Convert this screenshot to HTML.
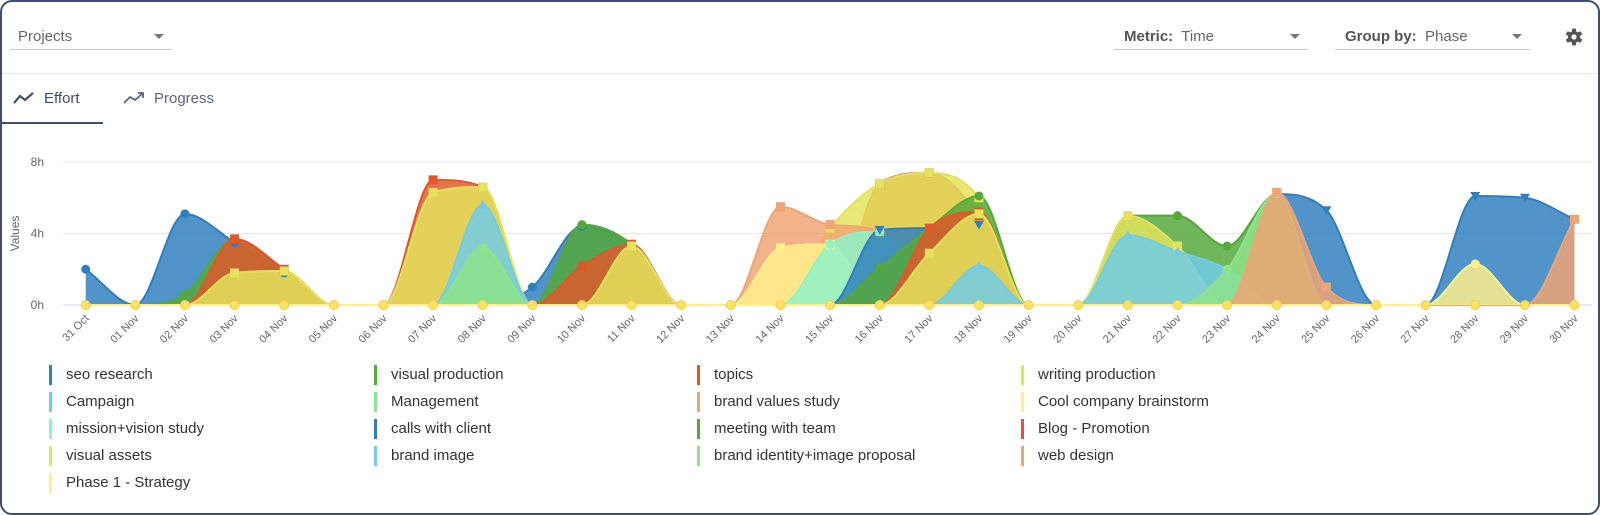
<!DOCTYPE html>
<html><head><meta charset="utf-8">
<style>
*{box-sizing:border-box;margin:0;padding:0}
body{width:1600px;height:515px;background:#fff;font-family:"Liberation Sans",sans-serif;overflow:hidden;position:relative}
.card{position:absolute;left:0;top:0;width:1600px;height:515px;border:2px solid #3f4d70;border-radius:12px;background:#fff}
.dd{position:absolute;border-bottom:1px solid #c8c8c8;height:24px;font-size:15px;color:#666}
.dd .car{position:absolute;right:8px;top:8px;width:0;height:0;border-left:5px solid transparent;border-right:5px solid transparent;border-top:5px solid #777}
.dd b{color:#555}
.sep{position:absolute;left:2px;right:2px;top:73px;height:1px;background:#e6e6e6}
.tab{position:absolute;top:90px;font-size:15px;color:#5c6478}
.lg{position:absolute;font-size:15px;color:#333;height:20px;line-height:20px}
.lg i{position:absolute;left:-17px;top:0;width:3px;height:20px}
</style></head><body>
<div class="card"></div>
<div class="dd" style="left:10px;top:26px;width:162px"><span style="position:absolute;left:8px;top:2px">Projects</span><span class="car"></span></div>
<div class="dd" style="left:1114px;top:26px;width:194px"><span style="position:absolute;left:10px;top:2px"><b>Metric:</b>&nbsp; Time</span><span class="car"></span></div>
<div class="dd" style="left:1335px;top:26px;width:195px"><span style="position:absolute;left:10px;top:2px"><b>Group by:</b>&nbsp; Phase</span><span class="car"></span></div>
<svg style="position:absolute;left:1565px;top:28px" width="18" height="18" viewBox="0 0 18 18"><g fill="#555"><circle cx="9" cy="9" r="6"/><rect x="7" y="0.5" width="4" height="17" rx="1"/><rect x="7" y="0.5" width="4" height="17" rx="1" transform="rotate(60 9 9)"/><rect x="7" y="0.5" width="4" height="17" rx="1" transform="rotate(120 9 9)"/></g><circle cx="9" cy="9" r="2.6" fill="#fff"/></svg>
<div class="sep"></div>
<div class="tab" style="left:12px"><svg width="24" height="14" style="vertical-align:-2px;margin-right:8px"><polyline points="2,12 8,5 13,9 21,2" fill="none" stroke="#3f4d70" stroke-width="2.2"/></svg><span style="color:#3f4d70">Effort</span></div>
<div style="position:absolute;left:2px;top:122px;width:101px;height:2px;background:#3f4d70"></div>
<div class="tab" style="left:122px"><svg width="24" height="14" style="vertical-align:-2px;margin-right:8px"><polyline points="2,12 8,6 13,9 21,2" fill="none" stroke="#5c6478" stroke-width="1.8"/><polyline points="16,2 21,2 21,7" fill="none" stroke="#5c6478" stroke-width="1.8"/></svg>Progress</div>
<svg id="chart" width="1600" height="515" style="position:absolute;left:0;top:0"></svg>
<div id="legend"></div>
<script>
const dates=["31 Oct","01 Nov","02 Nov","03 Nov","04 Nov","05 Nov","06 Nov","07 Nov","08 Nov","09 Nov","10 Nov","11 Nov","12 Nov","13 Nov","14 Nov","15 Nov","16 Nov","17 Nov","18 Nov","19 Nov","20 Nov","21 Nov","22 Nov","23 Nov","24 Nov","25 Nov","26 Nov","27 Nov","28 Nov","29 Nov","30 Nov"];
const yTicks=[0,4,8];
const seriesNames=["seo research","visual production","topics","writing production","Campaign","Management","brand values study","Cool company brainstorm","mission+vision study","calls with client","meeting with team","Blog - Promotion","visual assets","brand image","brand identity+image proposal","web design","Phase 1 - Strategy"];
const seoResearch=[2,0,5.1,3.5,1.8,0,0,0,0,1.0,4.4,3.3,0,0,0,0,0,0,0,0,0,0,0,0,0,0,0,0,0,0,0];
const visualProduction=[0,0,0.6,3.7,1.9,0,0,0,0,0,4.5,3.4,0,0,0,0,0,0,0,0,0,0,0,0,0,0,0,0,0,0,0];
const topics=[0,0,0,3.7,2.0,0,0,7.0,6.6,0,2.2,3.4,0,0,0,0,6.8,7.4,5.0,0,0,0,0,0,0,0,0,0,0,0,0];
const writingProduction=[0,0,0,1.8,1.9,0,0,6.3,6.6,0,0,3.3,0,0,0,4.3,6.8,7.4,6.0,0,0,0,0,0,0,0,0,0,0,0,0];
const campaign=[0,0,0,0,0,0,0,0,5.6,0,0,0,0,0,0,0,0,0,0,0,0,0,0,0,0,0,0,0,0,0,0];
const management=[0,0,0,0,0,0,0,0,3.2,0,0,0,0,0,0,0,0,0,0,0,0,0,0,0,0,0,0,0,0,0,0];
const brandValuesStudy=[0,0,0,0,0,0,0,0,0,0,0,0,0,0,5.5,4.5,4.1,0,0,0,0,0,0,0,0,0,0,0,0,0,0];
const coolCompany=[0,0,0,0,0,0,0,0,0,0,0,0,0,0,3.2,3.4,0,0,0,0,0,0,0,0,0,0,0,0,0,0,0];
const missionVision=[0,0,0,0,0,0,0,0,0,0,0,0,0,0,0,3.4,4.1,0,0,0,0,0,0,0,0,0,0,0,0,0,0];
const callsWithClient=[0,0,0,0,0,0,0,0,0,0,0,0,0,0,0,0,4.2,4.3,4.5,0,0,0,0,0,6.2,5.3,0,0,6.1,6.0,4.8];
const meetingWithTeam=[0,0,0,0,0,0,0,0,0,0,0,0,0,0,0,0,2.1,4.3,6.1,0,0,5.0,5.0,3.3,6.2,0,0,0,0,0,0];
const blogPromotion=[0,0,0,0,0,0,0,0,0,0,0,0,0,0,0,0,0,4.3,5.2,0,0,0,0,0,0,0,0,0,0,0,0];
const visualAssets=[0,0,0,0,0,0,0,0,0,0,0,0,0,0,0,0,0,2.9,5.1,0,0,5.0,3.3,0,0,0,0,0,0,0,0];
const brandImage=[0,0,0,0,0,0,0,0,0,0,0,0,0,0,0,0,0,0,2.2,0,0,3.9,3.0,2.0,0,0,0,0,0,0,0];
const brandIdentity=[0,0,0,0,0,0,0,0,0,0,0,0,0,0,0,0,0,0,0,0,0,0,0,2.0,6.2,0,0,0,0,0,0];
const webDesign=[0,0,0,0,0,0,0,0,0,0,0,0,0,0,0,0,0,0,0,0,0,0,0,0,6.3,1.0,0,0,0,0,4.8];
const phase1=[0,0,0,0,0,0,0,0,0,0,0,0,0,0,0,0,0,0,0,0,0,0,0,0,0,0,0,0,2.3,0,0];
const seriesValues=[seoResearch,visualProduction,topics,writingProduction,campaign,management,brandValuesStudy,coolCompany,missionVision,callsWithClient,meetingWithTeam,blogPromotion,visualAssets,brandImage,brandIdentity,webDesign,phase1];
const colors=["#2f7fbf","#55a83a","#e0582a","#e3e35c","#70cde8","#8ee48a","#f0a574","#fff18a","#8ef3c8","#2f7fbf","#55a83a","#e0582a","#e3e35c","#70cde8","#8ee48a","#f0a574","#fff18a"];
const shapes=["circle","circle","square","square","triangle","circle","square","square","circle","tdown","circle","square","square","triangle","circle","square","circle"];

const NS="http://www.w3.org/2000/svg";
const svg=document.getElementById('chart');
const X0=85.7,X1=1574.5,Y0=305,Y8=162,GL=63,GR=1592;
const xs=i=>X0+(X1-X0)*i/(dates.length-1);
const ys=v=>Y0+(Y8-Y0)*v/8;
function mk(t,a){const e=document.createElementNS(NS,t);for(const k in a)e.setAttribute(k,a[k]);svg.appendChild(e);return e;}

yTicks.forEach(t=>{
  const g=mk('line',{x1:GL,x2:GR,y1:ys(t),y2:ys(t),stroke:t===0?'#ccd6eb':'#e6e6e6','stroke-width':1});
  
  
  const l=mk('text',{x:44,y:ys(t)+4,'text-anchor':'end','font-size':12,fill:'#666','font-family':'Liberation Sans, sans-serif'});
  l.textContent=t+'h';
  
  
});
const yt=mk('text',{x:0,y:0,transform:'translate(19,'+((Y0+Y8)/2)+') rotate(-90)','text-anchor':'middle','font-size':12,fill:'#666','font-family':'Liberation Sans, sans-serif'});
yt.textContent='Values';



dates.forEach((d,i)=>{
  const t=mk('text',{x:0,y:0,transform:'translate('+(xs(i)+4)+','+(Y0+14)+') rotate(-45)','text-anchor':'end','font-size':11,fill:'#666','font-family':'Liberation Sans, sans-serif'});
  t.textContent=d;
  
  
});

function mono(vals){
  const n=vals.length,P=vals.map((v,i)=>[xs(i),ys(v)]);
  const d=[],m=[];
  for(let i=0;i<n-1;i++)d.push((P[i+1][1]-P[i][1])/(P[i+1][0]-P[i][0]));
  for(let i=0;i<n;i++){
    if(i===0)m.push(d[0]);else if(i===n-1)m.push(d[n-2]);
    else m.push(d[i-1]*d[i]<=0?0:(d[i-1]+d[i])/2);
  }
  for(let i=0;i<n-1;i++){
    if(d[i]===0){m[i]=0;m[i+1]=0;continue;}
    const a=m[i]/d[i],b=m[i+1]/d[i],s=a*a+b*b;
    if(s>9){const t=3/Math.sqrt(s);m[i]=t*a*d[i];m[i+1]=t*b*d[i];}
  }
  let p='M'+P[0][0]+','+P[0][1];
  for(let i=0;i<n-1;i++){
    const h=(P[i+1][0]-P[i][0])/3;
    p+=' C'+(P[i][0]+h)+','+(P[i][1]+m[i]*h)+' '+(P[i+1][0]-h)+','+(P[i+1][1]-m[i+1]*h)+' '+P[i+1][0]+','+P[i+1][1];
  }
  return p;
}

seriesValues.forEach((vals,s)=>{
  const line=mono(vals);
  const a=mk('path',{d:line+' L'+X1+','+Y0+' L'+X0+','+Y0+' Z',fill:colors[s],'fill-opacity':0.84,stroke:'none'});
  
  
  const l=mk('path',{d:line,fill:'none',stroke:colors[s],'stroke-width':2});
  
  
});
seriesValues.forEach((vals,s)=>{
  vals.forEach((v,i)=>{
    if(v<=0)return;
    const x=xs(i),y=ys(v);let e;
    if(shapes[s]==='circle')e=mk('circle',{cx:x,cy:y,r:4.5,fill:colors[s]});
    else if(shapes[s]==='square')e=mk('rect',{x:x-4.5,y:y-4.5,width:9,height:9,fill:colors[s]});
    else if(shapes[s]==='triangle')e=mk('path',{d:`M${x},${y-5}L${x+5},${y+4}L${x-5},${y+4}Z`,fill:colors[s]});
    else e=mk('path',{d:`M${x},${y+5}L${x+5},${y-4}L${x-5},${y-4}Z`,fill:colors[s]});
    
    
  });
});
dates.forEach((d,i)=>{
  const c=mk('circle',{cx:xs(i),cy:Y0,r:4.5,fill:'#ffe45c',stroke:'#f3c85a','stroke-width':1});
  
  
});

const lg=document.getElementById('legend');
const colX=[66,391,714,1038],rowY=[375,402,429,456,483];
seriesNames.forEach((n,i)=>{
  const el=document.createElement('div');
  el.className='lg';
  el.style.left=colX[i%4]+'px';el.style.top=(rowY[Math.floor(i/4)]-10)+'px';
  el.innerHTML='<i style="background:'+colors[i]+'"></i>'+n;
  
  
  lg.appendChild(el);
});
</script>
</body></html>
